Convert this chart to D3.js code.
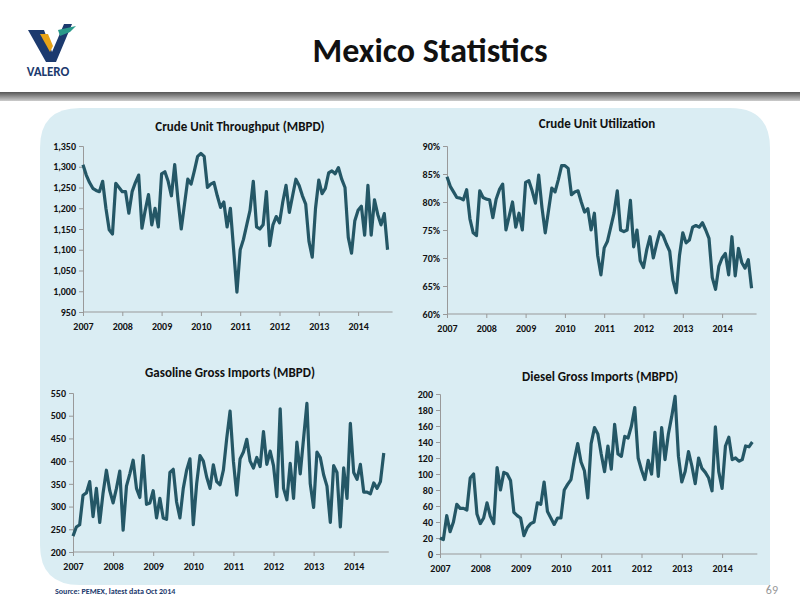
<!DOCTYPE html>
<html><head><meta charset="utf-8">
<script src="https://cdn.jsdelivr.net/npm/d3@7"></script>
<style>body{margin:0;background:#fff;font-family:Calibri,Carlito,"Open Sans",sans-serif}</style>
</head><body><div id="chart"></div>
<script>
// monthly data, Jan 2007 - Oct 2014
var years = ["2007","2008","2009","2010","2011","2012","2013","2014"];
var throughput = [1305,1280,1262,1248,1243,1240,1265,1200,1148,1138,1260,1250,
  1240,1240,1188,1240,1262,1280,1152,1195,1233,1160,1200,1155,
  1283,1288,1265,1230,1305,1220,1150,1210,1270,1258,1290,1325,
  1332,1325,1250,1258,1262,1230,1202,1215,1155,1200,1100,998,
  1100,1125,1160,1195,1265,1155,1150,1160,1240,1110,1160,1180,
  1165,1215,1255,1190,1230,1270,1255,1230,1210,1120,1082,1200,
  1268,1235,1248,1285,1290,1283,1298,1270,1250,1130,1092,1170,
  1195,1205,1135,1255,1135,1220,1185,1160,1187,1100];
var utilization = [84.5,82.8,81.8,80.8,80.7,80.4,82.2,77,74.5,74,82,80.8,
  80.5,80.4,77.2,80.5,82.2,83.2,75,77.5,80,75.5,78,75,
  83.5,83.8,82,79.8,84.8,79,74.5,78.5,82.5,81.8,84,86.5,
  86.5,86,81.3,81.8,82,80,78.2,78.8,75,78,70.5,67,
  71.8,73,75.5,78,82,75,74.7,75,80.3,72,75,69.5,
  68.3,71.5,73.8,70,72.5,74.7,74,72.5,71.2,66,63.8,70.5,
  74.5,72.7,73.2,75.5,75.8,75.5,76.3,75,73.5,66.5,64.4,68.5,
  70,70.8,67,73.8,66.8,71.7,69.2,68.2,69.7,64.6];
var gasoline = [235,255,260,325,330,355,278,340,265,330,380,335,
  308,340,378,248,345,372,402,340,320,412,305,308,
  335,275,318,275,272,375,382,310,275,340,380,405,
  260,350,412,400,365,340,392,355,348,380,450,510,
  400,325,405,420,448,400,385,408,388,465,393,422,
  390,322,515,340,315,395,318,442,372,450,527,350,
  298,420,408,370,345,265,390,375,255,385,318,483,
  375,360,393,332,332,328,352,340,355,418];
var diesel = [20,18,48,28,40,62,57,57,55,95,100,50,
  38,45,64,47,38,108,80,102,100,92,52,48,
  45,23,33,38,40,64,62,90,53,45,37,45,
  45,80,87,93,118,138,115,104,70,138,158,150,
  125,103,135,106,162,125,122,147,145,160,183,120,
  105,93,117,100,152,97,158,118,150,172,197,122,
  90,103,128,110,88,120,107,102,95,79,159,103,
  82,135,146,118,120,116,118,135,134,140];

var svg = d3.select("#chart").append("svg").attr("width", 800).attr("height", 600);

// header
svg.append("text").attr("x", 430).attr("y", 62).attr("text-anchor", "middle")
  .style("font-size", "34px").style("font-weight", "bold").attr("fill", "#111").text("Mexico Statistics");
var grad = svg.append("defs").append("linearGradient").attr("id", "band").attr("x1", 0).attr("x2", 0).attr("y1", 0).attr("y2", 1);
grad.append("stop").attr("offset", 0).attr("stop-color", "#555");
grad.append("stop").attr("offset", 1).attr("stop-color", "#ccc");
svg.append("rect").attr("x", 0).attr("y", 92).attr("width", 800).attr("height", 9).attr("fill", "url(#band)");

// logo
svg.append("path").attr("d", "M28,30 L44,30 L52,52 L64,24 L72,24 L56,62 L46,62 Z").attr("fill", "#1c3a6e");
svg.append("path").attr("d", "M40,34 L48,34 L53,46 L50,52 Z").attr("fill", "#e8a317");
svg.append("path").attr("d", "M58,30 L76,26 L70,32 L60,36 Z").attr("fill", "#2a9a8a");
svg.append("text").attr("x", 48).attr("y", 76).attr("text-anchor", "middle").style("font-size", "13px")
  .style("font-weight", "bold").attr("fill", "#1c3a6e").text("VALERO");

// panel
svg.append("path").attr("d", "M80,108 L730,108 Q770,108 770,148 L770,585 L80,585 Q40,585 40,545 L40,148 Q40,108 80,108 Z")
  .attr("fill", "#daedf3");

svg.append("text").attr("x", 55).attr("y", 594).style("font-size", "8px").style("font-weight", "bold")
  .attr("fill", "#1c3a6e").text("Source:  PEMEX, latest data Oct 2014");
svg.append("text").attr("x", 778).attr("y", 594).attr("text-anchor", "end").style("font-size", "12px")
  .attr("fill", "#999").text("69");

function drawChart(o) {
  var perMonth = o.perYear / 12;
  var x = d3.scaleLinear().domain([0, 93]).range([o.left, o.left + 93 * perMonth]);
  var y = d3.scaleLinear().domain(o.domain).range([o.bottom, o.top]);
  var g = svg.append("g");
  g.append("text").attr("x", o.tx).attr("y", o.ty).attr("text-anchor", "middle")
    .style("font-size", "13px").style("font-weight", "bold").attr("fill", "#111").text(o.title);
  var xa = g.append("g").attr("transform", "translate(0," + o.bottom + ")")
    .call(d3.axisBottom(x).tickValues(d3.range(0, 96, 12)).tickSize(4).tickFormat(function (d, i) { return years[i]; }));
  xa.select(".domain").attr("d", "M" + o.left + ",0H" + (x(93) + 5));
  var ya = g.append("g").attr("transform", "translate(" + o.left + ",0)")
    .call(d3.axisLeft(y).tickValues(o.ticks).tickSize(4).tickFormat(o.fmt));
  g.selectAll(".domain,.tick line").attr("stroke", "#999");
  g.selectAll(".tick text").style("font-size", "10px").style("font-weight", "bold").attr("fill", "#111")
    .style("font-family", "Calibri,Carlito,'Open Sans',sans-serif");
  xa.selectAll(".tick text").attr("dy", "1.1em");
  g.append("path").datum(o.data).attr("fill", "none").attr("stroke", "#245766").attr("stroke-width", 3.2)
    .attr("stroke-linejoin", "round")
    .attr("d", d3.line().x(function (d, i) { return x(i); }).y(function (d) { return y(d); }));
}

drawChart({ title: "Crude Unit Throughput (MBPD)", tx: 240, ty: 131, data: throughput,
  left: 83, perYear: 39.3, top: 146, bottom: 312, domain: [950, 1350],
  ticks: d3.range(950, 1351, 50), fmt: d3.format(",") });
drawChart({ title: "Crude Unit Utilization", tx: 597, ty: 128, data: utilization,
  left: 447, perYear: 39.3, top: 146, bottom: 314, domain: [60, 90],
  ticks: d3.range(60, 91, 5), fmt: function (d) { return d + "%"; } });
drawChart({ title: "Gasoline Gross Imports (MBPD)", tx: 230, ty: 377, data: gasoline,
  left: 73, perYear: 40.1, top: 393, bottom: 552, domain: [200, 550],
  ticks: d3.range(200, 551, 50), fmt: d3.format("d") });
drawChart({ title: "Diesel Gross Imports (MBPD)", tx: 600, ty: 381, data: diesel,
  left: 440, perYear: 40.3, top: 394, bottom: 554, domain: [0, 200],
  ticks: d3.range(0, 201, 20), fmt: d3.format("d") });
</script></body></html>
